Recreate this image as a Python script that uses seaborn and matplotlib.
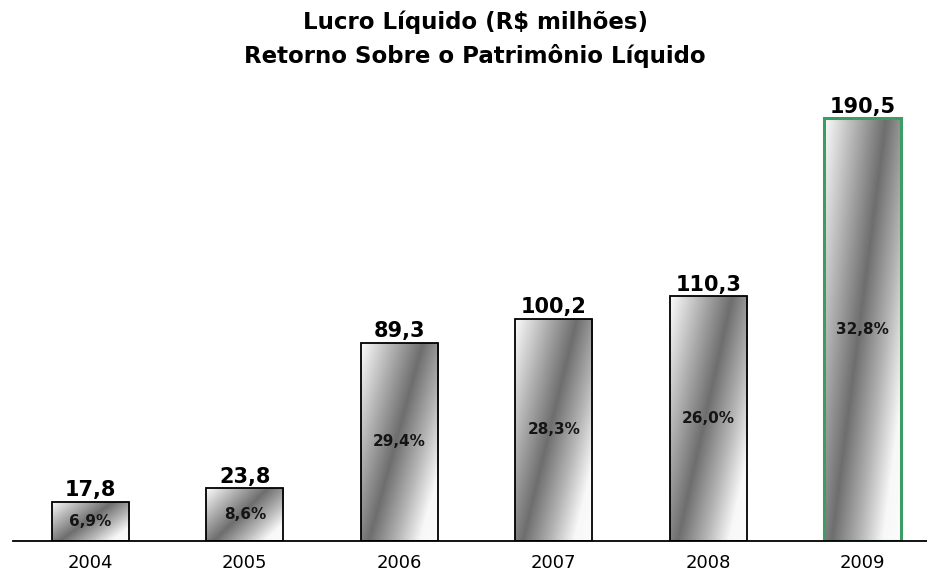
import matplotlib
matplotlib.use("Agg")
import matplotlib.pyplot as plt
import numpy as np
import pandas as pd
import seaborn as sns
from matplotlib.colors import LinearSegmentedColormap

years = ["2004", "2005", "2006", "2007", "2008", "2009"]
lucro = [17.8, 23.8, 89.3, 100.2, 110.3, 190.5]
roe = ["6,9%", "8,6%", "29,4%", "28,3%", "26,0%", "32,8%"]
title = "Lucro Líquido (R$ milhões)\nRetorno Sobre o Patrimônio Líquido"

df = pd.DataFrame({"ano": years, "lucro": lucro})

sns.set_style("white")
plt.rcParams["font.family"] = ["DejaVu Sans"]

fig = plt.figure(figsize=(9.28, 5.75), dpi=100)
ax = fig.add_axes([0.014, 0.059, 0.999, 0.772])

sns.barplot(data=df, x="ano", y="lucro", width=0.5, color="white", ax=ax)

# gradiente diagonal claro -> escuro -> claro dentro de cada barra
cmap = LinearSegmentedColormap.from_list(
    "metal",
    [(0.0, "#fcfcfc"), (0.25, "#b0b0b0"), (0.47, "#6e6e6e"), (0.68, "#b4b4b4"), (0.86, "#f8f8f8"), (1.0, "#fcfcfc")],
)
u = np.linspace(0, 1, 120)
v = np.linspace(0, 1, 240)
U, V = np.meshgrid(u, v)
grad = np.clip((U + 0.7 * V) / 1.7, 0, 1)

for i, patch in enumerate(ax.patches):
    x0, y0 = patch.get_x(), patch.get_y()
    w, h = patch.get_width(), patch.get_height()
    im = ax.imshow(grad, cmap=cmap, vmin=0, vmax=1, extent=(x0, x0 + w, y0, y0 + h),
                   origin="upper", aspect="auto", zorder=1, interpolation="bilinear")
    im.set_clip_path(patch)
    patch.set_facecolor("none")
    patch.set_zorder(2)
    if i == len(ax.patches) - 1:
        patch.set_edgecolor("#3c9c64")
        patch.set_linewidth(2.2)
    else:
        patch.set_edgecolor("black")
        patch.set_linewidth(1.3)
    ax.annotate(f"{lucro[i]:.1f}".replace(".", ","), (x0 + w / 2, y0 + h), xytext=(0, 4),
                textcoords="offset points", ha="center", va="baseline",
                fontsize=15, fontweight="bold", color="black", zorder=3)
    ax.text(x0 + w / 2, y0 + h / 2, roe[i], ha="center", va="center",
            fontsize=11, fontweight="bold", color="#151515", zorder=3)

ax.set_xlim(-0.5, 5.5)
ax.set_ylim(0, 200)
ax.set_xlabel("")
ax.set_ylabel("")
ax.set_yticks([])
for s in ["left", "top", "right"]:
    ax.spines[s].set_visible(False)
ax.spines["bottom"].set_color("black")
ax.spines["bottom"].set_linewidth(1.3)
ax.spines["bottom"].set_zorder(4)
ax.tick_params(axis="x", which="major", length=0, pad=9, labelsize=13, labelcolor="black")
ax.set_xticks(np.arange(-0.5, 5.5, 1.0), minor=True)
ax.tick_params(axis="x", which="minor", length=6, width=1.3, color="black", direction="out")

fig.text(0.512, 0.932, title, ha="center", va="center", fontsize=16.5,
         fontweight="bold", linespacing=1.55, color="black")

fig.savefig("out.png", dpi=100)
